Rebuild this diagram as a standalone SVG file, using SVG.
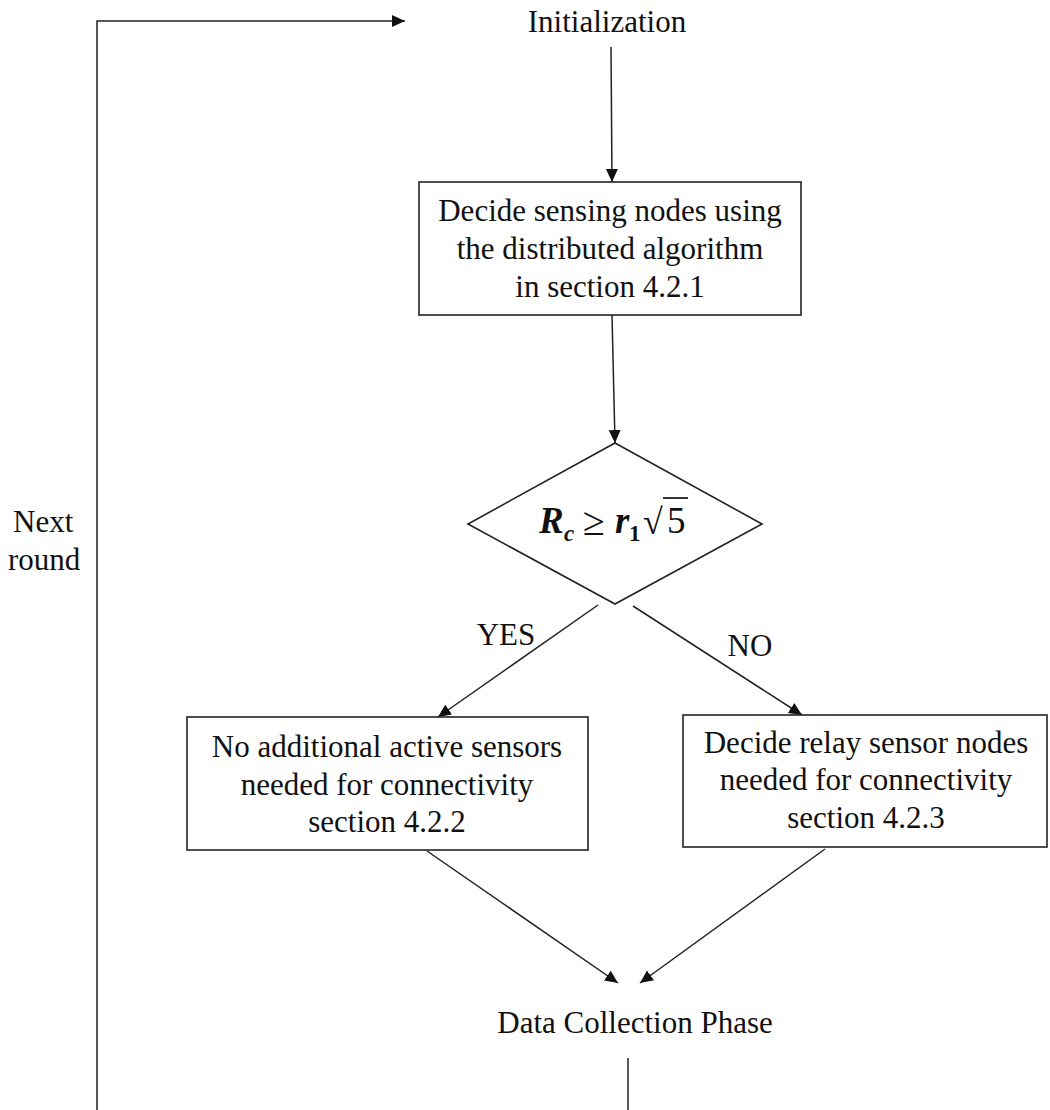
<svg xmlns="http://www.w3.org/2000/svg" width="1050" height="1110" viewBox="0 0 1050 1110">
<style>
.t{font-family:"Liberation Serif","Times New Roman",serif;font-size:31px;fill:#111;}
.m{text-anchor:middle;}
.box{fill:#fff;stroke:#222;stroke-width:1.6;}
.ln{fill:none;stroke:#222;stroke-width:1.5;}
.f{font-family:"Liberation Serif","Times New Roman",serif;fill:#111;}
</style>
<defs>
<marker id="ah" markerUnits="userSpaceOnUse" markerWidth="14" markerHeight="14" viewBox="0 0 14 14" refX="13" refY="7" orient="auto">
<path d="M0,1 L13,7 L0,13 Z" fill="#111"/>
</marker>
</defs>
<rect width="1050" height="1110" fill="#fff"/>
<g id="connectors">
<polyline class="ln" points="97,1110 97,21 405,21" marker-end="url(#ah)"/>
<line class="ln" x1="611" y1="47" x2="612" y2="182" marker-end="url(#ah)"/>
<line class="ln" x1="612" y1="315" x2="615" y2="443" marker-end="url(#ah)"/>
<line class="ln" x1="598" y1="605" x2="438" y2="717" marker-end="url(#ah)"/>
<line class="ln" x1="633" y1="606" x2="802" y2="715" marker-end="url(#ah)"/>
<line class="ln" x1="427" y1="851" x2="618" y2="983" marker-end="url(#ah)"/>
<line class="ln" x1="825" y1="849" x2="640" y2="983" marker-end="url(#ah)"/>
<line class="ln" x1="628" y1="1058" x2="628" y2="1110"/>
<text class="t" x="506" y="645" text-anchor="middle">YES</text>
<text class="t" x="750" y="656" text-anchor="middle">NO</text>
<text class="t" x="13" y="532">Next</text>
<text class="t" x="8" y="570">round</text>
</g>
<g id="init">
<text class="t m" x="607" y="32">Initialization</text>
</g>
<g id="decide-sensing">
<rect class="box" x="419" y="182" width="382" height="133"/>
<text class="t m" x="610" y="221">Decide sensing nodes using</text>
<text class="t m" x="610" y="259">the distributed algorithm</text>
<text class="t m" x="610" y="297">in section 4.2.1</text>
</g>
<g id="condition">
<polygon class="box" points="615,443 762,524 615,604 468,524"/>
<text class="f" y="533"><tspan x="539" font-size="37" font-weight="bold" font-style="italic">R</tspan><tspan x="564" y="541" font-size="23" font-weight="bold" font-style="italic">c</tspan><tspan x="583" y="535" font-size="40">≥</tspan><tspan x="615" y="533" font-size="37" font-weight="bold" font-style="italic">r</tspan><tspan x="629" y="541" font-size="23" font-weight="bold">1</tspan><tspan x="643" y="534" font-size="36">√</tspan><tspan x="667" y="533" font-size="37">5</tspan></text>
<line x1="663" y1="498" x2="688" y2="498" stroke="#111" stroke-width="1.7"/>
</g>
<g id="no-additional">
<rect class="box" x="187" y="717" width="401" height="133"/>
<text class="t m" x="387" y="757">No additional active sensors</text>
<text class="t m" x="387" y="795">needed for connectivity</text>
<text class="t m" x="387" y="832">section 4.2.2</text>
</g>
<g id="decide-relay">
<rect class="box" x="683" y="715" width="364" height="132"/>
<text class="t m" x="866" y="753">Decide relay sensor nodes</text>
<text class="t m" x="866" y="790">needed for connectivity</text>
<text class="t m" x="866" y="828">section 4.2.3</text>
</g>
<g id="data-collection">
<text class="t m" x="635" y="1033">Data Collection Phase</text>
</g>
</svg>
